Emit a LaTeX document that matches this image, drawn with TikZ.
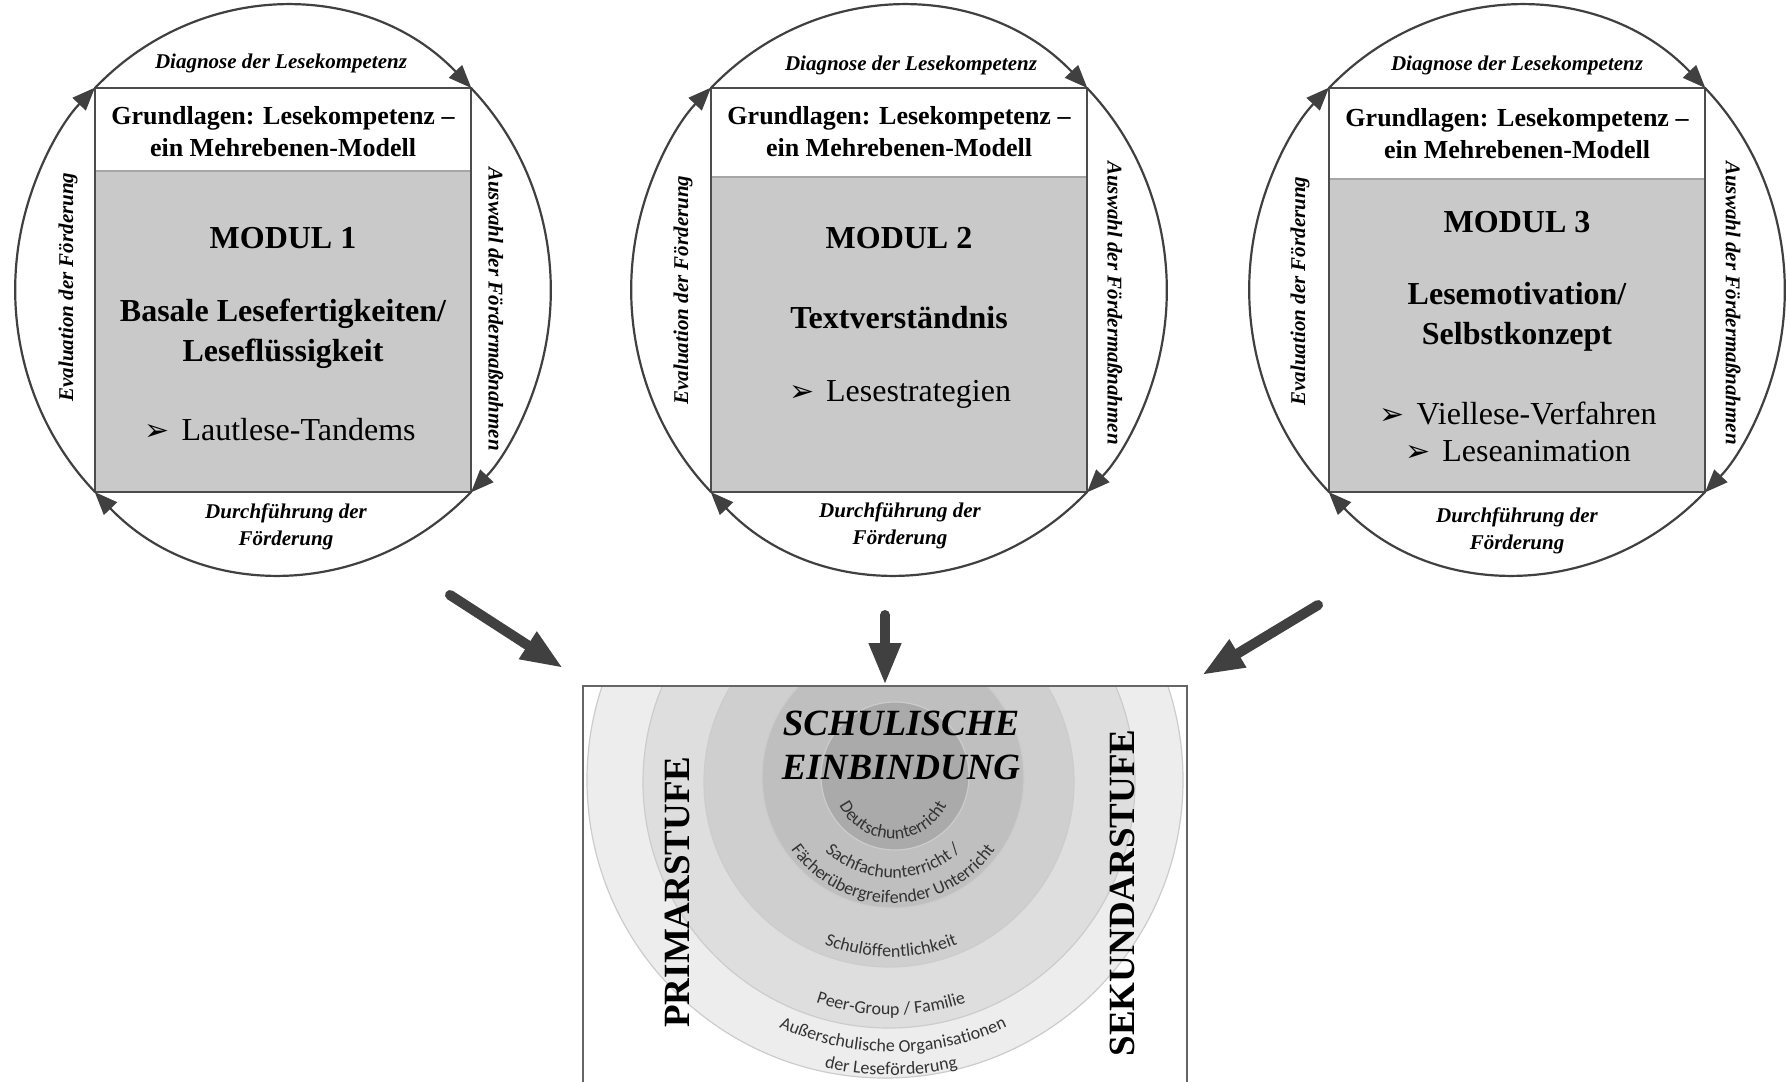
\documentclass[tikz,border=0pt]{standalone}
\usepackage{fontspec}
\setmainfont{Liberation Serif}
\newfontfamily\arcfont{Carlito}
\newfontfamily\symfont{DejaVu Sans}
\usetikzlibrary{arrows.meta,decorations.text}

\definecolor{linegray}{RGB}{64,64,64}
\definecolor{modgray}{RGB}{201,201,201}
\definecolor{ringa}{RGB}{237,237,237}
\definecolor{ringb}{RGB}{222,222,222}
\definecolor{ringc}{RGB}{207,207,207}
\definecolor{ringd}{RGB}{191,191,191}
\definecolor{ringe}{RGB}{170,170,170}

\newcommand{\bul}{{\symfont\fontsize{15}{15}\selectfont ➢}\hspace{6pt}}

\tikzset{
  cyc/.style={draw=linegray, line width=1.1pt, -{Triangle[length=11.5pt,width=9pt]}},
  modbox/.style={fill=modgray, minimum width=188pt, minimum height=202pt, inner sep=0pt, outer sep=0pt},
  modframe/.style={draw=black!70, line width=1.2pt},
  sepline/.style={draw=black!35, line width=0.8pt},
  lbl/.style={font=\fontsize{10.5}{13.5}\selectfont\bfseries\itshape, align=center, inner sep=0pt},
  hdrtxt/.style={font=\fontsize{13}{16}\selectfont\bfseries, align=center, inner sep=0pt},
  modtxt/.style={font=\fontsize{16}{20}\selectfont\bfseries, align=center, inner sep=0pt},
  itemtxt/.style={font=\fontsize{16}{18.5}\selectfont, align=center, inner sep=0pt},
  bigarrow/.style={draw=linegray, line width=5pt, line cap=round, -{Triangle[length=21pt,width=15pt]}},
  ring/.style={draw=black!20, line width=0.6pt},
  boxframe/.style={draw=black!60, line width=1pt},
  stufe/.style={font=\fontsize{18.5}{20}\selectfont\bfseries, rotate=90, inner sep=0pt},
  title/.style={font=\fontsize{18.5}{22}\selectfont\bfseries\itshape, align=center, inner sep=0pt},
  curved/.style={decorate, decoration={text along path, text align=center,
      text={|\arcfont\fontsize{9}{10}\selectfont\color{black!80}|#1}}},
}

\begin{document}
\begin{tikzpicture}[x=0.5pt, y=0.5pt]
  \path[fill=white, use as bounding box] (0,0) rectangle (1787,-1081);

  % the three modules with their cycle
  \foreach \i/\cx/\hy in {1/283/171, 2/899/177, 3/1517/179}{
    \node[modbox] (m\i) at (\cx,-290) {};
    \fill[white] (m\i.north west) rectangle ({\cx+188},-\hy);
    \draw[sepline] ({\cx-188},-\hy) -- ({\cx+188},-\hy);
    \draw[modframe] (m\i.north west) rectangle (m\i.south east);
    \draw[cyc] (m\i.north west) arc[start angle=134.6, end angle=45.4, x radius=268, y radius=284];
    \draw[cyc] (m\i.north east) arc[start angle=45.4, end angle=-45.4, x radius=268, y radius=284];
    \draw[cyc] (m\i.south east) arc[start angle=-45.4, end angle=-134.6, x radius=268, y radius=284];
    \draw[cyc] (m\i.south west) arc[start angle=-134.6, end angle=-225.4, x radius=268, y radius=284];
  }

  % module 1
  \node[lbl] (d1) at (281,-63) {Diagnose der Lesekompetenz};
  \node[hdrtxt] (g1) at (283,-132) {Grundlagen: Lesekompetenz –\\ein Mehrebenen-Modell};
  \node[modtxt] (t1) at (283,-238) {MODUL 1};
  \node[modtxt] (s1) at (283,-334) {Basale Lesefertigkeiten/\\Leseflüssigkeit};
  \node[itemtxt] (p1) at (280,-430) {\bul Lautlese-Tandems};
  \node[lbl] (u1) at (286,-527) {Durchführung der\\Förderung};
  \node[lbl, rotate=90] (e1) at (68,-287) {Evaluation der Förderung};
  \node[lbl, rotate=-90] (w1) at (496,-309) {Auswahl der Fördermaßnahmen};

  % module 2
  \node[lbl] (d2) at (911,-65) {Diagnose der Lesekompetenz};
  \node[hdrtxt] (g2) at (899,-132) {Grundlagen: Lesekompetenz –\\ein Mehrebenen-Modell};
  \node[modtxt] (t2) at (899,-238) {MODUL 2};
  \node[modtxt] (s2) at (899,-318) {Textverständnis};
  \node[itemtxt] (p2) at (900,-394) {\bul Lesestrategien};
  \node[lbl] (u2) at (900,-526) {Durchführung der\\Förderung};
  \node[lbl, rotate=90] (e2) at (683,-290) {Evaluation der Förderung};
  \node[lbl, rotate=-90] (w2) at (1115,-303) {Auswahl der Fördermaßnahmen};

  % module 3
  \node[lbl] (d3) at (1517,-65) {Diagnose der Lesekompetenz};
  \node[hdrtxt] (g3) at (1517,-134) {Grundlagen: Lesekompetenz –\\ein Mehrebenen-Modell};
  \node[modtxt] (t3) at (1517,-222) {MODUL 3};
  \node[modtxt] (s3) at (1517,-317) {Lesemotivation/\\Selbstkonzept};
  \node[itemtxt] (p3) at (1518,-432) {\bul Viellese-Verfahren\\\bul Leseanimation};
  \node[lbl] (u3) at (1517,-531) {Durchführung der\\Förderung};
  \node[lbl, rotate=90] (e3) at (1300,-291) {Evaluation der Förderung};
  \node[lbl, rotate=-90] (w3) at (1733,-303) {Auswahl der Fördermaßnahmen};

  % school embedding
  \begin{scope}
    \clip (583,-686) rectangle (1187,-1081);
    \filldraw[ring, fill=ringa] (885,-780) circle[radius=298];
    \filldraw[ring, fill=ringb] (889,-782) circle[radius=246];
    \filldraw[ring, fill=ringc] (889,-782) circle[radius=185];
    \filldraw[ring, fill=ringd] (893,-777) circle[radius=131];
    \filldraw[ring, fill=ringe] (895,-776) circle[radius=74];
  \end{scope}
  \draw[boxframe] (583,-1090) |- (1187,-686) -- (1187,-1090);

  \path[curved=Deutschunterricht] (893,-779) ++(180:60) arc[start angle=180, end angle=360, radius=60];
  \path[curved=Sachfachunterricht /] (893,-779) ++(180:99) arc[start angle=180, end angle=360, radius=99];
  \path[curved=Fächerübergreifender Unterricht] (893,-779) ++(180:124) arc[start angle=180, end angle=360, radius=124];
  \path[curved=Schulöffentlichkeit] (891,-779) ++(180:178) arc[start angle=180, end angle=360, radius=178];
  \path[curved=Peer-Group / Familie] (891,-779) ++(180:236) arc[start angle=180, end angle=360, radius=236];
  \path[curved=Außerschulische Organisationen] (893,-779) ++(180:273) arc[start angle=180, end angle=360, radius=273];
  \path[curved=der Leseförderung] (891,-779) ++(180:296) arc[start angle=180, end angle=360, radius=296];

  \node[title] (sch) at (901,-745) {SCHULISCHE\\EINBINDUNG};
  \node[stufe] (pri) at (677,-892) {PRIMARSTUFE};
  \node[stufe] (sek) at (1122,-893) {SEKUNDARSTUFE};

  % arrows into the school box
  \coordinate (a1) at (450,-595);
  \coordinate (a1e) at (563,-668);
  \coordinate (a2) at (885,-615);
  \coordinate (a2e) at (885,-685);
  \coordinate (a3) at (1318,-605);
  \coordinate (a3e) at (1202,-675);
  \draw[bigarrow] (a1) -- (a1e);
  \draw[bigarrow] (a2) -- (a2e);
  \draw[bigarrow] (a3) -- (a3e);
\end{tikzpicture}
\end{document}
